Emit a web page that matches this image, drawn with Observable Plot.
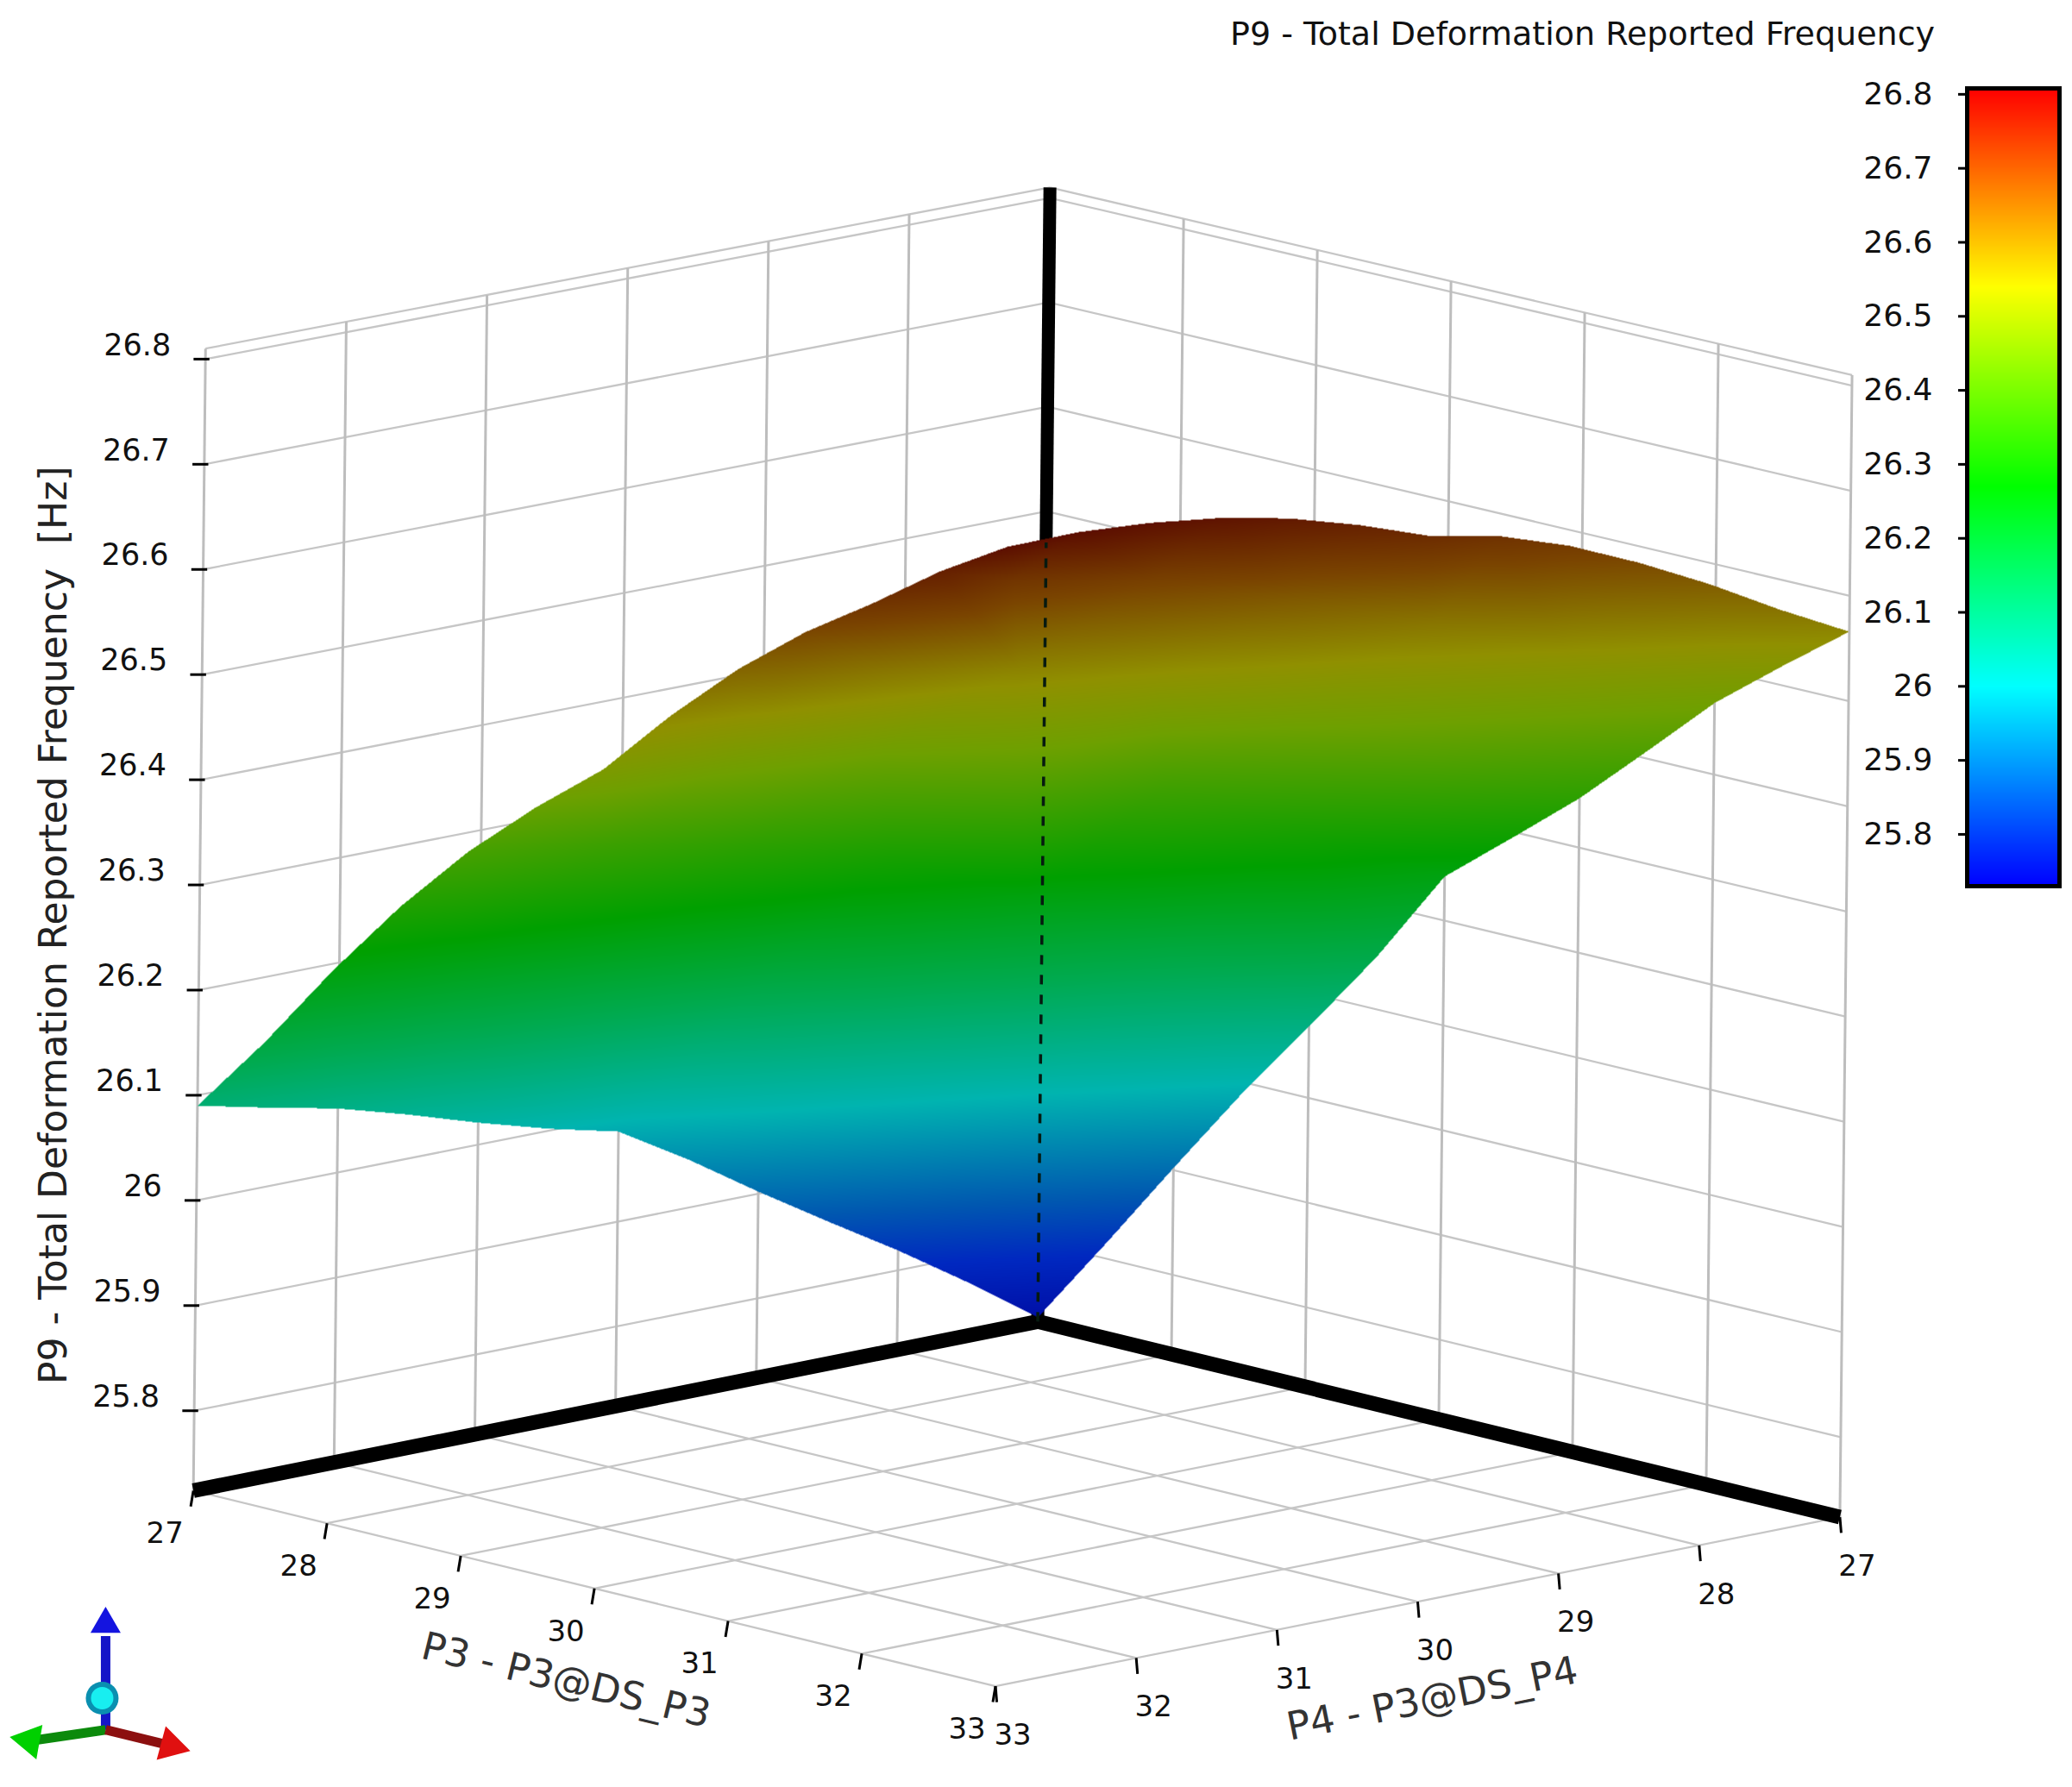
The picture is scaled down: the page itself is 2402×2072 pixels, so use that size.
<!DOCTYPE html>
<html lang="en">
<head>
    <meta charset="UTF-8">
    <script src="https://cdn.jsdelivr.net/npm/d3@7"></script>
    <script src="https://cdn.jsdelivr.net/npm/@observablehq/plot@0.6"></script>
    <title>P9 - Total Deformation Reported Frequency</title>
    <style>
        body { margin: 0; background: white; overflow: hidden; }
        #chart { position: relative; width: 2402px; height: 2072px; }
        #chart svg { position: absolute; left: 0; top: 0; }
        #legend { position: absolute; left: 2110px; top: 80px; }
        #legend svg { position: static; }
        #title { position: absolute; left: 1426px; top: 17px; font: 38px "DejaVu Sans", sans-serif; color: #111; white-space: nowrap; }
    </style>
</head>
<body>
<div id="chart">
    <div id="title">P9 - Total Deformation Reported Frequency</div>
    <div id="legend"></div>
</div>
<script>
    // axis values
    const p3Values = [27, 28, 29, 30, 31, 32, 33];
    const p4Values = [27, 28, 29, 30, 31, 32, 33];
    const rimSteps = [27, 27.5, 28, 28.5, 29, 29.5, 30, 30.5, 31, 31.5, 32, 32.5, 33];
    const freqTicks = [25.8, 25.9, 26, 26.1, 26.2, 26.3, 26.4, 26.5, 26.6, 26.7, 26.8];
    const freqFloor = 25.724;
    const freqTop = 26.81;

    // the four edges of the response surface, read at half steps
    const edgeP3at27 = [25.728, 25.775, 25.819, 25.86, 25.902, 25.946, 25.986, 26.002, 26.021, 26.042, 26.061, 26.075, 26.09];
    const edgeP3at33 = [26.566, 26.60, 26.637, 26.67, 26.699, 26.721, 26.734, 26.757, 26.776, 26.789, 26.797, 26.801, 26.80];
    const edgeP4at27 = [25.728, 25.814, 25.902, 25.988, 26.068, 26.15, 26.242, 26.294, 26.347, 26.407, 26.468, 26.518, 26.566];
    const edgeP4at33 = [26.09, 26.166, 26.249, 26.325, 26.392, 26.449, 26.50, 26.566, 26.625, 26.675, 26.717, 26.762, 26.80];

    // inside of the surface, one row per P3 from 28 to 32, P4 from 28 to 32
    const innerRow28 = [25.994, 26.074, 26.15, 26.19, 26.222];
    const innerRow29 = [26.166, 26.24, 26.306, 26.345, 26.372];
    const innerRow30 = [26.31, 26.378, 26.40, 26.467, 26.489];
    const innerRow31 = [26.409, 26.479, 26.533, 26.575, 26.60];
    const innerRow32 = [26.529, 26.596, 26.645, 26.687, 26.713];
    const innerRows = [innerRow28, innerRow29, innerRow30, innerRow31, innerRow32];

    // colours: the bar is the plain rainbow, the surface the same one with lighting on it
    const legendLevels = [25.73, 26.0, 26.27, 26.54, 26.808];
    const legendColors = ["#0000ff", "#00ffff", "#00ff00", "#ffff00", "#ff0000"];
    const surfaceLevels = [25.73, 25.80, 25.87, 26.0, 26.14, 26.27, 26.46, 26.55, 26.68, 26.81];
    const surfaceColors = ["#0010a8", "#0028c0", "#0058b0", "#00b4b0", "#00aa50", "#00a000", "#6ea000", "#909000", "#7a4400", "#5a0a00"];

    // a nearly orthographic view: one linear map, with a touch of depth on the height
    function project(p3, p4, freq) {
        const a = p3 - 27, b = p4 - 27, c = freq - freqFloor;
        const depth = 0.993 + 0.007 * (a + b) / 6;
        return [785 + a * 101.17 - b * 106.5 + c * 8.5, 1000 + a * 24.67 + b * 21.33 - c * 796 * depth];
    }
    const sx = (p3, p4, freq) => project(p3, p4, freq)[0];
    const sy = (p3, p4, freq) => project(p3, p4, freq)[1];

    // a segment between two points of the box
    const seg = (a, b) => ({x1: sx(...a), y1: sy(...a), x2: sx(...b), y2: sy(...b)});

    const uprightGrid = [
        ...p4Values.map(p4 => seg([27, p4, freqFloor], [27, p4, freqTop])),
        ...p3Values.map(p3 => seg([p3, 27, freqFloor], [p3, 27, freqTop]))
    ];
    const slantGrid = [
        ...[...freqTicks, freqTop].flatMap(f => [seg([27, 27, f], [27, 33, f]), seg([27, 27, f], [33, 27, f])]),
        ...p4Values.map(p4 => seg([27, p4, freqFloor], [33, p4, freqFloor])),
        ...p3Values.map(p3 => seg([p3, 27, freqFloor], [p3, 33, freqFloor]))
    ];
    const floorAxes = [
        seg([27, 33, freqFloor], [27, 27, freqFloor]),
        seg([33, 27, freqFloor], [27, 27, freqFloor])
    ];
    const backAxis = [seg([27, 27, freqFloor], [27, 27, freqTop])];
    const hiddenAxis = [seg([27, 27, freqFloor], [27, 27, 26.47])];

    const samplePoint = (p3, p4, freq) => ({x: sx(p3, p4, freq), y: sy(p3, p4, freq), freq});

    // walk round the sheet, the outline comes first in the sample list
    const last = rimSteps.length - 1;
    const rimPoints = [
        ...rimSteps.map((p4, k) => samplePoint(27, p4, edgeP3at27[k])),
        ...rimSteps.slice(1).map((p3, k) => samplePoint(p3, 33, edgeP4at33[k + 1])),
        ...rimSteps.slice(0, last).reverse().map((p4, k) => samplePoint(33, p4, edgeP3at33[last - 1 - k])),
        ...rimSteps.slice(1, last).reverse().map((p3, k) => samplePoint(p3, 27, edgeP4at27[last - 1 - k]))
    ];
    const innerPoints = innerRows.flatMap((row, i) => row.map((freq, j) => samplePoint(p3Values[i + 1], p4Values[j + 1], freq)));
    const surfacePoints = [...rimPoints, ...innerPoints];

    function interpolateSheet(index, width, height, X, Y, V) {
        const out = Plot.interpolatorBarycentric()(index, width, height, X, Y, V);
        const outline = rimPoints.map((d, k) => [X[k], Y[k]]);
        for (let py = 0; py < height; ++py) {
            for (let px = 0; px < width; ++px) {
                if (!d3.polygonContains(outline, [px + 0.5, py + 0.5])) out[py * width + px] = NaN;
            }
        }
        return out;
    }

    // orientation glyph, in picture units
    const triadShafts = [
        {x1: 79.6, y1: 1309, x2: 79.6, y2: 1238, color: "#1515c8"},
        {x1: 79.6, y1: 1309, x2: 25, y2: 1317, color: "#0c8a0c"},
        {x1: 79.6, y1: 1309, x2: 125, y2: 1320, color: "#8c1010"}
    ];
    const triadHeads = [
        {x: 79.6, y: 1229, color: "#1414e0", angle: 0, r: 13},
        {x: 22, y: 1317, color: "#00d000", angle: -80, r: 15},
        {x: 129, y: 1321, color: "#e01010", angle: 105, r: 15}
    ];
    const triadBall = [{x: 77, y: 1285}];

    const sans = "DejaVu Sans";

    const plot = Plot.plot({
        width: 2402,
        height: 2072,
        margin: 0,
        style: {background: "white", fontFamily: sans},
        x: {domain: [0, 1568], axis: null},
        y: {domain: [1352.6, 0], axis: null},
        r: {type: "identity"},
        color: {type: "linear", domain: surfaceLevels, range: surfaceColors, interpolate: "rgb", clamp: true},
        marks: [
            Plot.link(slantGrid, {x1: "x1", y1: "y1", x2: "x2", y2: "y2", stroke: "#c6c6c6", strokeWidth: 2.3}),
            Plot.link(uprightGrid, {x1: "x1", y1: "y1", x2: "x2", y2: "y2", stroke: "#bdbdbd", strokeWidth: 3}),
            Plot.link(floorAxes, {x1: "x1", y1: "y1", x2: "x2", y2: "y2", stroke: "black", strokeWidth: 17}),
            Plot.link(backAxis, {x1: "x1", y1: "y1", x2: "x2", y2: "y2", stroke: "black", strokeWidth: 15}),

            Plot.raster(surfacePoints, {x: "x", y: "y", fill: "freq", interpolate: interpolateSheet}),
            Plot.link(hiddenAxis, {x1: "x1", y1: "y1", x2: "x2", y2: "y2", stroke: "#061a10", strokeWidth: 3.5, strokeDasharray: "11,12"}),

            // frequency ticks and labels on the left corner
            Plot.link(freqTicks, {
                x1: f => sx(27, 33, f) - 9, y1: f => sy(27, 33, f),
                x2: f => sx(27, 33, f) + 3, y2: f => sy(27, 33, f),
                stroke: "black", strokeWidth: 3
            }),
            Plot.text(freqTicks, {
                x: f => sx(27, 33, f), y: f => sy(27, 33, f), text: f => String(f),
                textAnchor: "end", dx: -40, dy: -16, fontSize: 35, fill: "#111"
            }),

            // ticks and labels on the two front edges
            Plot.link(p3Values, {
                x1: p => sx(p, 33, freqFloor), y1: p => sy(p, 33, freqFloor),
                x2: p => sx(p, 33, freqFloor) - 2, y2: p => sy(p, 33, freqFloor) + 12,
                stroke: "black", strokeWidth: 3
            }),
            Plot.text(p3Values, {
                x: p => sx(p, 33, freqFloor), y: p => sy(p, 33, freqFloor), text: p => String(p),
                dx: -33, dy: 50, fontSize: 34, fill: "#111"
            }),
            Plot.link(p4Values, {
                x1: p => sx(33, p, freqFloor), y1: p => sy(33, p, freqFloor),
                x2: p => sx(33, p, freqFloor) + 1, y2: p => sy(33, p, freqFloor) + 12,
                stroke: "black", strokeWidth: 3
            }),
            Plot.text(p4Values, {
                x: p => sx(33, p, freqFloor), y: p => sy(33, p, freqFloor), text: p => String(p),
                dx: 20, dy: 57, fontSize: 34, fill: "#111"
            }),

            // axis titles
            Plot.text(["P3 - P3@DS_P3"], {
                x: () => sx(30, 33, freqFloor), y: () => sy(30, 33, freqFloor), text: d => d,
                dx: -33, dy: 107, rotate: 13.7, fontSize: 45, fill: "#333"
            }),
            Plot.text(["P4 - P3@DS_P4"], {
                x: () => sx(33, 30, freqFloor), y: () => sy(33, 30, freqFloor), text: d => d,
                dx: 17, dy: 113, rotate: -11.3, fontSize: 45, fill: "#333"
            }),
            Plot.text(["P9 - Total Deformation Reported Frequency  [Hz]"], {
                x: () => 41, y: () => 700, text: d => d,
                rotate: -90, fontSize: 44, fill: "#222"
            }),

            // orientation glyph
            Plot.link(triadShafts, {x1: "x1", y1: "y1", x2: "x2", y2: "y2", stroke: "color", strokeWidth: 11}),
            Plot.dot(triadHeads, {x: "x", y: "y", fill: "color", r: "r", symbol: "triangle", rotate: "angle"}),
            Plot.dot(triadBall, {x: "x", y: "y", r: 19, fill: "#0a8fb0"}),
            Plot.dot(triadBall, {x: "x", y: "y", r: 13, fill: "#18eef0"})
        ]
    });
    document.querySelector("#chart").prepend(plot);

    const legend = Plot.plot({
        width: 292,
        height: 957,
        marginLeft: 170,
        marginRight: 15,
        marginTop: 22,
        marginBottom: 10,
        style: {background: "transparent", fontFamily: sans},
        x: {domain: [0, 1], axis: null},
        y: {domain: [25.73, 26.808]},
        color: {type: "linear", domain: legendLevels, range: legendColors, interpolate: "rgb"},
        marks: [
            Plot.raster({x1: 0, x2: 1, y1: 25.73, y2: 26.808, fill: (x, y) => y}),
            Plot.frame({stroke: "black", strokeWidth: 5}),
            Plot.axisY({
                ticks: freqTicks, tickFormat: String, label: null,
                tickSize: 10, tickPadding: 30, fontSize: 36, strokeWidth: 3, stroke: "black", fill: "#111"
            })
        ]
    });
    document.querySelector("#legend").append(legend);
</script>
</body>
</html>
